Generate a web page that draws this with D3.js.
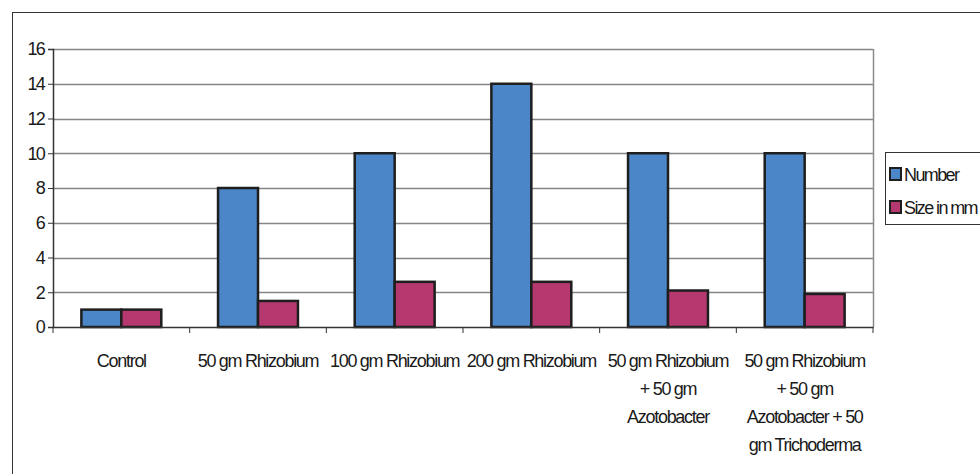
<!DOCTYPE html>
<html>
<head>
<meta charset="utf-8">
<script src="https://cdn.jsdelivr.net/npm/d3@7"></script>
<style>
  body { margin: 0; background: #fff; }
  text { font-family: "Liberation Sans", Arial, sans-serif; fill: #1a1a1a; }
</style>
</head>
<body>
<div id="chart"></div>
<script>
// chart data
var categories = ["Control", "50 gm Rhizobium", "100 gm Rhizobium", "200 gm Rhizobium",
  "50 gm Rhizobium + 50 gm Azotobacter", "50 gm Rhizobium + 50 gm Azotobacter + 50 gm Trichoderma"];
var categoryLines = [
  ["Control"],
  ["50 gm Rhizobium"],
  ["100 gm Rhizobium"],
  ["200 gm Rhizobium"],
  ["50 gm Rhizobium", "+ 50 gm", "Azotobacter"],
  ["50 gm Rhizobium", "+ 50 gm", "Azotobacter + 50", "gm Trichoderma"]
];
var seriesNames = ["Number", "Size in mm"];
var numberValues = [1, 8, 10, 14, 10, 10];
var sizeValues = [1, 1.5, 2.6, 2.6, 2.1, 1.9];
var yTicks = [0, 2, 4, 6, 8, 10, 12, 14, 16];

var colors = ["#4a86c8", "#b5386f"];

var w = 980, h = 474;
var plot = { left: 53, right: 873, top: 49, bottom: 327 };

var svg = d3.select("#chart").append("svg")
  .attr("width", w)
  .attr("height", h);

// outer frame (runs past the right / bottom edge)
svg.append("rect")
  .attr("x", 12.5).attr("y", 12.5)
  .attr("width", 1100).attr("height", 600)
  .attr("fill", "none")
  .attr("stroke", "#333")
  .attr("stroke-width", 1);

var x = d3.scaleBand()
  .domain(categories)
  .range([plot.left, plot.right]);

var xs = d3.scaleBand()
  .domain(seriesNames)
  .range([0, x.bandwidth()])
  .paddingOuter(0.71);

var y = d3.scaleLinear()
  .domain([0, 16])
  .range([plot.bottom, plot.top]);

// gridlines
svg.append("g")
  .selectAll("line")
  .data(yTicks.filter(function (d) { return d > 0; }))
  .enter().append("line")
  .attr("x1", plot.left).attr("x2", plot.right)
  .attr("y1", function (d) { return Math.round(y(d)) + 0.5; })
  .attr("y2", function (d) { return Math.round(y(d)) + 0.5; })
  .attr("stroke", "#858585")
  .attr("stroke-width", 1.5);

// right border of plot area
svg.append("line")
  .attr("x1", plot.right + 0.5).attr("x2", plot.right + 0.5)
  .attr("y1", plot.top).attr("y2", plot.bottom)
  .attr("stroke", "#8a8a8a")
  .attr("stroke-width", 1.5);

// bars
var rows = categories.map(function (c, i) {
  return { cat: c, vals: [numberValues[i], sizeValues[i]] };
});

var groups = svg.append("g")
  .selectAll("g")
  .data(rows)
  .enter().append("g")
  .attr("transform", function (d) { return "translate(" + x(d.cat) + ",0)"; });

groups.selectAll("rect")
  .data(function (d) {
    return d.vals.map(function (v, j) { return { s: seriesNames[j], v: v, j: j }; });
  })
  .enter().append("rect")
  .attr("x", function (d) { return xs(d.s); })
  .attr("y", function (d) { return y(d.v); })
  .attr("width", xs.bandwidth())
  .attr("height", function (d) { return y(0) - y(d.v); })
  .attr("fill", function (d) { return colors[d.j]; })
  .attr("stroke", "#1e1e1e")
  .attr("stroke-width", 2.5);

// y axis
var yAxis = svg.append("g")
  .attr("transform", "translate(" + plot.left + ",0)")
  .call(d3.axisLeft(y).tickValues(yTicks).tickSize(5).tickPadding(4));
yAxis.select(".domain").attr("stroke", "#333").attr("stroke-width", 1.5);
yAxis.selectAll(".tick line").attr("stroke", "#333");
yAxis.selectAll(".tick text")
  .style("font-family", "'Liberation Sans', Arial, sans-serif")
  .style("font-size", "18px")
  .style("letter-spacing", "-1.8px")
  .attr("fill", "#1a1a1a");

// x axis
var xAxis = svg.append("g")
  .attr("transform", "translate(0," + plot.bottom + ")")
  .call(d3.axisBottom(x).tickSize(0).tickFormat(""));
xAxis.select(".domain").attr("stroke", "#333").attr("stroke-width", 1.5);
xAxis.selectAll(".tick").remove();

svg.append("g")
  .selectAll("line")
  .data(categories.concat(["end"]))
  .enter().append("line")
  .attr("x1", function (d) { return d === "end" ? plot.right : x(d); })
  .attr("x2", function (d) { return d === "end" ? plot.right : x(d); })
  .attr("y1", plot.bottom)
  .attr("y2", plot.bottom + 6)
  .attr("stroke", "#333")
  .attr("stroke-width", 1);

// category labels
svg.append("g")
  .selectAll("text")
  .data(categories)
  .enter().append("text")
  .attr("text-anchor", "middle")
  .attr("y", 367)
  .style("font-size", "18px")
  .style("letter-spacing", "-1.3px")
  .each(function (d, i) {
    var t = d3.select(this);
    categoryLines[i].forEach(function (line, k) {
      t.append("tspan")
        .attr("x", x(d) + x.bandwidth() / 2)
        .attr("dy", k === 0 ? 0 : 28)
        .text(line);
    });
  });

// legend
var legend = svg.append("g");
legend.append("rect")
  .attr("x", 885.5).attr("y", 152.5)
  .attr("width", 200).attr("height", 72)
  .attr("fill", "#fff")
  .attr("stroke", "#333");

var li = legend.selectAll("g")
  .data(seriesNames)
  .enter().append("g")
  .attr("transform", function (d, i) { return "translate(0," + (i * 33) + ")"; });

li.append("rect")
  .attr("x", 890).attr("y", 168)
  .attr("width", 11).attr("height", 12)
  .attr("fill", function (d, i) { return colors[i]; })
  .attr("stroke", "#1e1e1e")
  .attr("stroke-width", 2);

li.append("text")
  .attr("x", 904).attr("y", 181)
  .style("font-size", "18px")
  .style("letter-spacing", "-1.6px")
  .text(function (d) { return d; });
</script>
</body>
</html>
